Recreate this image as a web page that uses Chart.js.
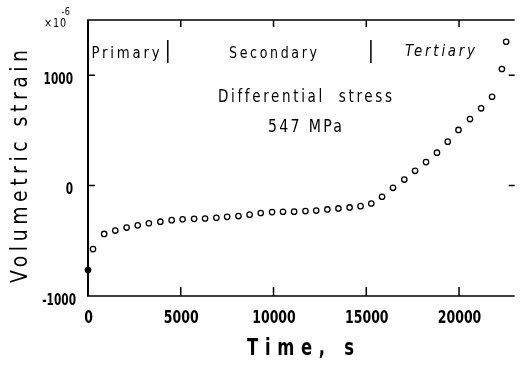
<!DOCTYPE html>
<html><head><meta charset="utf-8">
<script src="https://cdn.jsdelivr.net/npm/chart.js@4.4.0/dist/chart.umd.min.js"></script>
<style>html,body{margin:0;padding:0;background:#fff}canvas{display:block}</style>
</head><body>
<canvas id="c" width="520" height="367"></canvas>
<script>
// ---- data ----
const timeS = [270, 870, 1470, 2080, 2680, 3280, 3900, 4510, 5100, 5720, 6310, 6920, 7500, 8110, 8710,
  9310, 9920, 10510, 11110, 11720, 12300, 12900, 13500, 14100, 14690, 15270, 15850, 16440, 17050,
  17630, 18220, 18810, 19390, 19970, 20590, 21190, 21780, 22310, 22540];
const strain = [-575, -438, -407, -380, -360, -341, -327, -313, -305, -301, -298, -291, -283, -276, -263,
  -248, -240, -237, -236, -231, -226, -216, -207, -198, -186, -162, -101, -20, 55,
  134, 213, 298, 398, 504, 603, 700, 805, 1056, 1303];
const initialTime = [0];
const initialStrain = [-765];
const xTicks = [0, 5000, 10000, 15000, 20000];
const xTickLabels = ['0', '5000', '10000', '15000', '20000'];
const yTicks = [-1000, 0, 1000];
const yTickLabels = ['-1000', '0', '1000'];
const phaseNames = ['Primary', 'Secondary', 'Tertiary'];
const phaseBoundaries = [4300, 15250];
const stressLabel = ['Differential  stress', '547 MPa'];
const xTitle = 'Time, s';
const yTitle = 'Volumetric strain';

const FF = '"DejaVu Sans Condensed", "DejaVu Sans", sans-serif';

const mainPts = timeS.map((t, i) => ({x: t, y: strain[i]}));
const initPts = initialTime.map((t, i) => ({x: t, y: initialStrain[i]}));

// draw text compressed horizontally by sx
function drawScaled(ctx, s, x, y, font, sx, spacing, align) {
  ctx.save();
  ctx.font = font;
  ctx.letterSpacing = (spacing || 0) + 'px';
  ctx.textBaseline = 'alphabetic';
  ctx.fillStyle = '#000';
  const w = ctx.measureText(s).width - (spacing || 0);
  let x0 = x;
  if (align === 'center') x0 = x - w * sx / 2;
  else if (align === 'right') x0 = x - w * sx;
  ctx.translate(x0, y);
  ctx.scale(sx, 1);
  ctx.textAlign = 'left';
  ctx.fillText(s, 0, 0);
  ctx.restore();
}
// draw text so that it spans targetW pixels
function fitText(ctx, s, x, y, font, targetW, spacing, align) {
  ctx.save();
  ctx.font = font;
  ctx.letterSpacing = (spacing || 0) + 'px';
  const w = ctx.measureText(s).width - (spacing || 0);
  ctx.restore();
  drawScaled(ctx, s, x, y, font, targetW / w, spacing, align);
}
function digitScale(ctx, font, target) {
  ctx.save(); ctx.font = font; ctx.letterSpacing = '0px';
  const w = ctx.measureText('0').width; ctx.restore();
  return target / w;
}

const decor = {
  id: 'decor',
  afterDraw(chart) {
    const {ctx, chartArea: a, scales: {x, y}} = chart;
    ctx.save();
    ctx.strokeStyle = '#000';
    ctx.lineCap = 'butt';
    // frame
    ctx.lineWidth = 2;
    ctx.beginPath();
    ctx.moveTo(a.left, a.top); ctx.lineTo(a.left, a.bottom);
    ctx.stroke();
    ctx.lineWidth = 1.6;
    ctx.beginPath();
    ctx.moveTo(a.left - 1, a.top); ctx.lineTo(a.right, a.top);
    ctx.moveTo(a.left - 1, a.bottom); ctx.lineTo(a.right, a.bottom);
    ctx.stroke();
    // inward ticks
    ctx.lineWidth = 1.5;
    ctx.beginPath();
    xTicks.forEach(v => {
      if (v === 0) return;
      const px = x.getPixelForValue(v);
      ctx.moveTo(px, a.bottom); ctx.lineTo(px, a.bottom - 9);
      ctx.moveTo(px, a.top); ctx.lineTo(px, a.top + 7);
    });
    yTicks.forEach(v => {
      if (v === y.min) return;
      const py = y.getPixelForValue(v);
      ctx.moveTo(a.left, py); ctx.lineTo(a.left + 7, py);
      ctx.moveTo(a.right, py); ctx.lineTo(a.right - 6, py);
    });
    ctx.stroke();
    // phase boundaries
    ctx.beginPath();
    phaseBoundaries.forEach(v => {
      const px = x.getPixelForValue(v);
      ctx.moveTo(px, 40); ctx.lineTo(px, 63);
    });
    ctx.stroke();
    ctx.restore();

    // tick labels
    const xf = 'bold 17.5px ' + FF;
    const xs = digitScale(ctx, xf, 8.7);
    xTicks.forEach((v, i) => {
      drawScaled(ctx, xTickLabels[i], x.getPixelForValue(v) + 0.5, 322.5, xf, xs, 0, 'center');
    });
    const yf = 'bold 16px ' + FF;
    const ys = digitScale(ctx, yf, 7.35);
    yTicks.forEach((v, i) => {
      drawScaled(ctx, yTickLabels[i], v === y.min ? 76 : 73, y.getPixelForValue(v) + 8.5, yf, ys, 0, 'right');
    });

    // texts
    const f16 = '16px ' + FF;
    fitText(ctx, phaseNames[0], 91.5, 58, f16, 68, 3);
    fitText(ctx, phaseNames[1], 229, 58, f16, 88, 3);
    fitText(ctx, phaseNames[2], 405, 55.5, 'italic ' + f16, 70, 3);
    fitText(ctx, stressLabel[0], 218, 102, '17px ' + FF, 174, 3);
    fitText(ctx, stressLabel[1], 268, 132, '17px ' + FF, 74, 2.5);
    // exponent
    fitText(ctx, '\u00d710', 44, 27, '12.5px ' + FF, 22, 1);
    drawScaled(ctx, '-6', 61.5, 15, '10px ' + FF, 0.9, 0.5);
    // axis titles
    fitText(ctx, xTitle, 247, 355, 'bold 23px ' + FF, 107, 8.5);
    ctx.save();
    ctx.translate(27, 166.5);
    ctx.rotate(-Math.PI / 2);
    fitText(ctx, yTitle, 0, 0, '23px ' + FF, 233, 5, 'center');
    ctx.restore();
  }
};

new Chart(document.getElementById('c'), {
  type: 'scatter',
  data: {
    datasets: [
      {data: initPts, pointRadius: 3, pointBorderWidth: 1, pointBackgroundColor: '#000', borderColor: '#000', clip: false},
      {data: mainPts, pointRadius: 2.7, pointBorderWidth: 1.3, pointBackgroundColor: '#fff', borderColor: '#000', clip: false}
    ]
  },
  options: {
    responsive: false,
    animation: false,
    devicePixelRatio: 1,
    events: [],
    layout: {padding: {top: 20, right: 0, left: 0, bottom: 0}},
    plugins: {legend: {display: false}, tooltip: {enabled: false}},
    scales: {
      x: {
        type: 'linear', min: 0, max: 23000,
        afterBuildTicks: s => { s.ticks = xTicks.map(v => ({value: v})); },
        afterFit: s => { s.height = 71; },
        grid: {display: false, drawTicks: false},
        border: {display: false},
        ticks: {display: false}
      },
      y: {
        type: 'linear', min: -1000, max: 1500,
        afterBuildTicks: s => { s.ticks = yTicks.map(v => ({value: v})); },
        afterFit: s => { s.width = 88; },
        grid: {display: false, drawTicks: false},
        border: {display: false},
        ticks: {display: false}
      }
    }
  },
  plugins: [decor]
});
</script>
</body></html>
